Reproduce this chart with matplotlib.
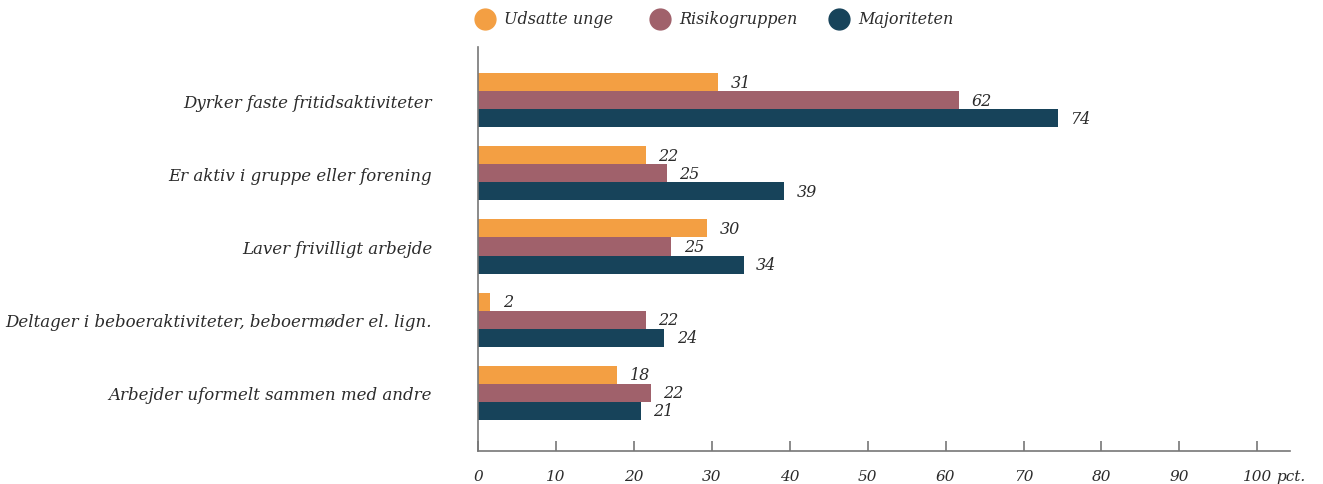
import numpy as np
import matplotlib.pyplot as plt
from matplotlib.lines import Line2D
from matplotlib.transforms import blended_transform_factory

# data
kategorier = ['Dyrker faste fritidsaktiviteter',
              'Er aktiv i gruppe eller forening',
              'Laver frivilligt arbejde',
              'Deltager i beboeraktiviteter, beboermøder el. lign.',
              'Arbejder uformelt sammen med andre']
serier = ['Udsatte unge', 'Risikogruppen', 'Majoriteten']
# bar lengths, plus the printed labels
udsatte = [30.8, 21.5, 29.4, 1.6, 17.9]
risiko = [61.7, 24.2, 24.8, 21.5, 22.2]
majoritet = [74.4, 39.3, 34.1, 23.9, 20.9]
udsatte_lbl = [31, 22, 30, 2, 18]
risiko_lbl = [62, 25, 25, 22, 22]
majoritet_lbl = [74, 39, 34, 24, 21]
xticks = [0, 10, 20, 30, 40, 50, 60, 70, 80, 90, 100]

farver = ['#F39F43', '#A0616B', '#17435A']
tekst = '#2b2b2b'
FONT = 'DejaVu Serif'

plt.rcParams['font.family'] = [FONT, 'DejaVu Sans']

W, H = 1323, 485
fig = plt.figure(figsize=(W / 100, H / 100), dpi=100)
# axes in pixel positions
x0, x1 = 478, 1290
y_top, y_bot = 48, 452
ax = fig.add_axes([x0 / W, 1 - y_bot / H, (x1 - x0) / W, (y_bot - y_top) / H])

pos = np.arange(len(kategorier))
bh = 18 / 73
for i, (vals, lbls) in enumerate([(udsatte, udsatte_lbl), (risiko, risiko_lbl), (majoritet, majoritet_lbl)]):
    yy = pos + (i - 1) * bh
    ax.barh(yy, vals, height=bh, color=farver[i], linewidth=0)
    for y, v, l in zip(yy, vals, lbls):
        ax.annotate(str(l), (v, y), xytext=(9, 0), textcoords='offset points',
                    va='center', ha='left', fontsize=11.5, style='italic', color=tekst)

ax.set_xlim(0, (x1 - x0) / 7.793)
ax.set_ylim(4 + 58 / 73, -53 / 73)

for s in ['top', 'right']:
    ax.spines[s].set_visible(False)
for s in ['left', 'bottom']:
    ax.spines[s].set_color('#777777')
    ax.spines[s].set_linewidth(1.2)

ax.set_yticks(pos)
ax.set_yticklabels(kategorier, fontsize=12, style='italic', color=tekst)
ax.tick_params(axis='y', length=0, pad=33)
ax.set_xticks(xticks)
ax.set_xticklabels([str(t) for t in xticks], fontsize=11, style='italic', color=tekst)
ax.tick_params(axis='x', direction='in', length=7, width=1.2, color='#777777', pad=13)

trans = blended_transform_factory(ax.transData, ax.transAxes)
ax.annotate('pct.', (100, 0), xycoords=trans, xytext=(14, -13), textcoords='offset points',
            ha='left', va='top', fontsize=11, style='italic', color=tekst)

# legend placed by hand along the top
leg_x = [485, 660, 839]
for px, navn, c in zip(leg_x, serier, farver):
    fig.add_artist(Line2D([px / W], [1 - 20 / H], marker='o', markersize=15,
                          markerfacecolor=c, markeredgecolor=c, linestyle='none',
                          transform=fig.transFigure))
    fig.text((px + 19) / W, 1 - 20 / H, navn, ha='left', va='center',
             fontsize=11.5, style='italic', color=tekst)

fig.savefig('out.png', dpi=100)
